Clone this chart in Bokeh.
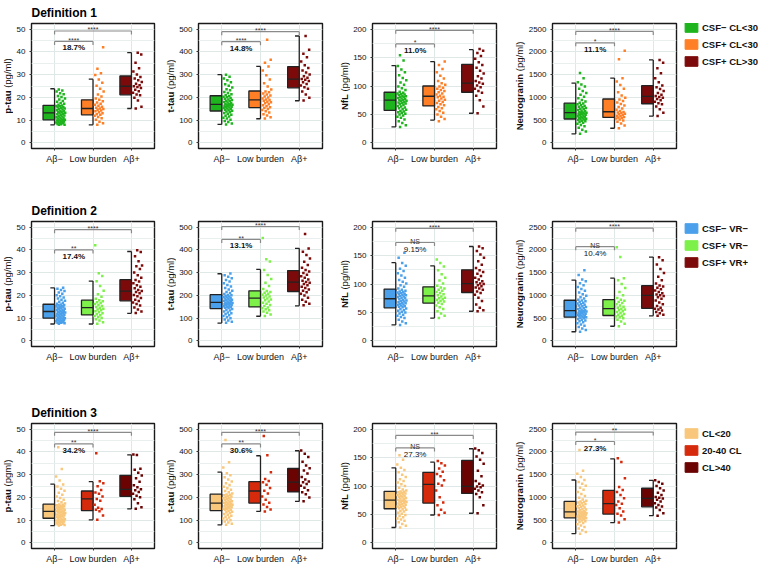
import math
from bokeh.plotting import figure
from bokeh.models import Range1d, FixedTicker, Label, Legend, LegendItem, ColumnDataSource
from bokeh.layouts import row, column
from bokeh.embed import file_html
from bokeh.resources import INLINE
from bokeh.core.properties import value

# ---------------- data ----------------
CATEGORIES = ["Aβ−", "Low burden", "Aβ+"]
DEFINITIONS = ["Definition 1", "Definition 2", "Definition 3"]
LEGEND_LABELS = [["CSF− CL<30", "CSF+ CL<30", "CSF+ CL>30"],
                 ["CSF− VR−", "CSF+ VR−", "CSF+ VR+"],
                 ["CL<20", "20-40 CL", "CL>40"]]
COLORS = [["#1eb41e", "#ff7f27", "#7d0a0a"],
          ["#4aa0ea", "#7df04a", "#7d0a0a"],
          ["#f9c77b", "#d62a0d", "#6b0303"]]
Y_LABEL_MAIN = ["p-tau", "t-tau", "NfL", "Neurogranin"]
Y_LABEL_UNIT = [["(pg/ml)", "(pg/ml)", "(pg/ml)", "(pg/ml)"],
                ["(pg/ml)", "(pg/ml)", "(pg/ml)", "(pg/ml)"],
                ["(pgml)", "(pg/ml)", "(pg/ml)", "(pg/ml)"]]
Y_TICKS = [[0, 10, 20, 30, 40, 50], [0, 100, 200, 300, 400, 500],
           [0, 50, 100, 150, 200], [0, 500, 1000, 1500, 2000, 2500]]

# box statistics [marker][group]: whisker low, Q1, median, Q3, whisker high
D1_LO = [[7.9, 7.9, 15.1], [81, 106, 185], [28, 40, 52], [196, 321, 587]]
D1_Q1 = [[10.1, 12.3, 21.1], [140, 155, 242], [57, 65, 89], [524, 559, 859]]
D1_MED = [[13.2, 15.1, 24.9], [169, 189, 280], [75, 82, 105], [663, 684, 1020]]
D1_Q3 = [[16.5, 18.9, 29.4], [207, 228, 335], [89, 100, 138], [873, 964, 1257]]
D1_HI = [[23.8, 28.0, 39.7], [300, 336, 470], [136, 143, 164], [1313, 1425, 1823]]

D2_LO = [[7.4, 7.4, 12.1], [78, 108, 154], [28, 40, 52], [200, 321, 550]]
D2_Q1 = [[10.0, 11.4, 17.6], [142, 149, 217], [58, 66.5, 85], [521, 557, 714]]
D2_MED = [[12.9, 14.6, 21.9], [169, 188, 258], [74, 79, 100.6], [664, 707, 1000]]
D2_Q3 = [[16.1, 17.9, 26.9], [203, 220, 309], [91, 95, 125], [893, 907, 1214]]
D2_HI = [[23.3, 26.3, 39.3], [295, 314, 407], [137.5, 132, 166], [1336, 1379, 1843]]

D3_LO = [[7.6, 10.1, 14.9], [79, 138, 182], [27, 49, 52], [201, 444, 597]]
D3_Q1 = [[10.8, 14.2, 20.4], [142, 175, 224], [60, 70, 87], [549, 632, 792]]
D3_MED = [[13.8, 19.3, 23.5], [175, 228, 267], [75, 103, 99.4], [681, 861, 979]]
D3_Q3 = [[17.0, 22.8, 29.7], [214, 269, 327], [90.6, 124, 145], [910, 1153, 1201]]
D3_HI = [[25.8, 26.9, 38.7], [311, 383, 405], [132, 142, 165.6], [1382, 1847, 1375]]

# significance annotations [definition][marker]
SIG_TOP_Y = [[49.2, 489, 198, 2451], [48.9, 503, 198, 2479], [48.6, 486, 189, 2437]]
SIG_LOW_Y = [[44.6, 445, 174, 2200], [40.0, 446, 173, 2071], [43.5, 435, 167, 2229]]
SIG_TOP_TXT = [["****", "****", "****", "****"], ["****", "****", "****", "****"],
               ["****", "****", "***", "**"]]
SIG_LOW_TXT = [["****", "****", "*", "*"], ["**", "**", "NS", "NS"], ["**", "**", "NS", "*"]]
PCT_TXT = [["18.7%", "14.8%", "11.0%", "11.1%"], ["17.4%", "13.1%", "9.15%", "10.4%"],
           ["34.2%", "30.6%", "27.3%", "27.3%"]]
PCT_BOLD = [[True, True, True, True], [True, True, False, False], [True, True, False, True]]

# individual points
D1_PTAU_NEG = [7.9, 8.0, 8.2, 8.3, 8.6, 8.7, 8.9, 9.0, 9.3, 9.4, 9.5, 9.8, 9.9, 10.0,
               10.2, 10.4, 10.7, 10.9, 11.1, 11.2, 11.6, 11.8, 12.0, 12.3, 12.6, 12.8, 13.0, 13.2,
               13.4, 13.7, 13.9, 14.0, 14.3, 14.7, 14.9, 15.1, 15.3, 15.6, 15.8, 16.1, 16.2, 16.4,
               16.7, 17.2, 17.5, 18.1, 18.4, 19.1, 19.5, 20.2, 20.6, 21.4, 21.8, 22.6, 23.0, 23.5]
D1_PTAU_LOW = [8.0, 8.6, 9.3, 10.1, 10.8, 11.4, 11.9, 12.3, 12.6, 13.0, 13.5, 13.9, 14.2, 14.6,
               14.9, 15.1, 15.4, 15.9, 16.3, 16.8, 17.2, 17.7, 18.3, 18.9, 19.5, 20.4, 21.3, 22.6,
               23.8, 25.1, 26.4, 27.9, 29.8, 30.6, 32.6, 42.0]
D1_PTAU_POS = [15.1, 15.9, 18.6, 19.8, 20.9, 21.3, 22.0, 22.7, 23.4, 24.1, 24.6, 24.9, 25.3,
               26.0, 26.8, 27.5, 28.3, 29.0, 30.1, 31.4, 32.8, 35.2, 38.9, 39.6]

D1_TTAU_NEG = [81, 85, 92, 96, 101, 107, 110, 116, 119, 124, 128, 131, 135, 138,
               141, 143, 146, 148, 151, 153, 155, 157, 159, 161, 163, 165, 166, 168,
               170, 172, 175, 177, 180, 183, 185, 188, 191, 194, 197, 200, 203, 206,
               209, 214, 219, 224, 231, 236, 243, 251, 258, 266, 275, 283, 291, 299]
D1_TTAU_LOW = [107, 112, 120, 126, 133, 139, 144, 149, 153, 157, 161, 165, 170, 174, 178, 181,
               185, 188, 191, 195, 199, 204, 208, 213, 217, 222, 226, 235, 248, 262, 279, 297,
               318, 336, 352, 366, 453]
D1_TTAU_POS = [186, 198, 213, 226, 238, 245, 252, 259, 266, 272, 278, 281, 286, 293, 301, 309,
               318, 329, 341, 358, 377, 392, 410, 470]

D1_NFL_NEG = [28, 31, 35, 38, 41, 44, 46, 48, 50, 51, 53, 54, 55, 56,
              58, 59, 61, 62, 64, 65, 67, 68, 69, 70, 71, 72, 73, 74,
              75, 76, 77, 78, 79, 80, 81, 82, 83, 84, 85, 86, 87, 88,
              90, 93, 96, 99, 102, 106, 110, 114, 119, 124, 129, 135, 145, 154]
D1_NFL_LOW = [38, 42, 46, 50, 53, 56, 59, 61, 63, 66, 68, 70, 72, 74, 76, 78, 80, 81,
              83, 85, 87, 89, 91, 93, 95, 97, 99, 102, 105, 109, 113, 118, 124, 130, 137, 143]
D1_NFL_POS = [52, 64, 75, 83, 88, 91, 95, 98, 101, 104, 106, 109, 113, 117, 122, 127, 132,
              137, 142, 148, 153, 158, 162, 165]

D1_NGRN_NEG = [200, 248, 290, 331, 365, 392, 418, 441, 459, 474, 488, 500, 511, 520,
               530, 541, 553, 563, 574, 585, 596, 607, 617, 627, 637, 646, 654, 661,
               668, 680, 693, 708, 722, 736, 750, 765, 780, 795, 811, 828, 846, 866,
               884, 910, 943, 978, 1015, 1056, 1098, 1142, 1190, 1238, 1285, 1330, 1420, 1536]
D1_NGRN_LOW = [323, 380, 425, 462, 493, 515, 533, 547, 556, 566, 582, 597, 611, 626, 640, 654,
               667, 680, 700, 726, 757, 789, 820, 852, 885, 918, 952, 990, 1040, 1110, 1190,
               1270, 1350, 1420, 1837, 2025]
D1_NGRN_POS = [590, 662, 738, 800, 846, 872, 903, 935, 962, 990, 1010, 1028, 1060, 1098, 1140,
               1183, 1225, 1262, 1330, 1420, 1530, 1640, 1760, 1823]

D2_PTAU_NEG = [7.5, 7.7, 7.9, 8.0, 8.2, 8.4, 8.6, 8.7, 8.9, 9.1, 9.3, 9.4, 9.6, 9.8, 9.9,
               10.1, 10.3, 10.5, 10.7, 10.9, 11.1, 11.3, 11.5, 11.7, 11.9, 12.1, 12.3, 12.5, 12.7, 12.8,
               13.0, 13.2, 13.4, 13.6, 13.9, 14.1, 14.3, 14.5, 14.8, 15.0, 15.2, 15.4, 15.6, 15.8, 16.0,
               16.3, 16.7, 17.2, 17.6, 18.1, 18.6, 19.1, 19.6, 20.1, 20.7, 21.3, 21.9, 22.4, 22.9, 23.3]
D2_PTAU_LOW = [7.5, 8.2, 8.9, 9.5, 10.0, 10.5, 10.9, 11.2, 11.7, 12.1, 12.6, 13.0, 13.4, 13.8,
               14.1, 14.4, 14.9, 15.3, 15.8, 16.2, 16.6, 17.0, 17.4, 17.8, 18.5, 19.4, 20.5, 22.0,
               24.1, 26.2, 28.5, 29.7, 42.1]
D2_PTAU_POS = [12.2, 12.9, 13.8, 14.7, 15.5, 16.2, 16.9, 17.5, 18.1, 18.8, 19.6, 20.2, 20.9, 21.5,
               21.9, 22.4, 23.1, 23.8, 24.5, 25.3, 26.1, 26.8, 27.8, 28.9, 30.1, 31.6, 32.8, 33.1,
               35.0, 37.2, 39.1, 39.8]

D2_TTAU_NEG = [80, 84, 89, 94, 99, 104, 109, 113, 117, 121, 125, 129, 133, 137, 140,
               144, 146, 148, 150, 152, 154, 156, 158, 160, 161, 163, 164, 166, 167, 168,
               171, 173, 175, 177, 179, 181, 184, 186, 188, 191, 193, 195, 197, 200, 202,
               206, 210, 215, 220, 226, 232, 239, 246, 253, 261, 268, 275, 282, 289, 296]
D2_TTAU_LOW = [109, 116, 123, 129, 134, 139, 143, 147, 153, 158, 163, 168, 173, 178, 182, 186,
               191, 195, 199, 203, 207, 211, 215, 219, 228, 241, 256, 272, 290, 312, 349, 359, 452]
D2_TTAU_POS = [156, 163, 172, 181, 190, 199, 207, 214, 220, 226, 232, 238, 244, 250, 255, 259,
               264, 270, 277, 284, 291, 298, 305, 312, 322, 334, 348, 362, 378, 392, 406, 470]

D2_NFL_NEG = [28, 31, 34, 37, 40, 42, 44, 46, 48, 50, 51, 53, 54, 56, 57,
              59, 60, 61, 62, 63, 64, 65, 66, 67, 68, 69, 70, 71, 72, 73,
              75, 76, 77, 78, 79, 80, 81, 82, 83, 84, 85, 86, 87, 88, 90,
              92, 95, 98, 101, 104, 107, 111, 115, 119, 123, 127, 132, 137, 146, 155]
D2_NFL_LOW = [40, 44, 48, 52, 56, 59, 62, 65, 67, 69, 70, 72, 73, 75, 76, 78,
              80, 82, 84, 86, 88, 90, 92, 94, 97, 101, 106, 111, 117, 124, 131, 137, 143]
D2_NFL_POS = [52, 54, 58, 64, 70, 76, 81, 84, 87, 90, 92, 94, 96, 98, 100, 101, 103, 105, 108,
              111, 114, 118, 121, 124, 128, 134, 140, 146, 152, 158, 163, 166]

D2_NGRN_NEG = [200, 236, 270, 302, 332, 360, 385, 408, 429, 448, 465, 481, 495, 507, 516,
               528, 538, 548, 558, 568, 578, 588, 598, 608, 618, 628, 638, 647, 655, 662,
               670, 684, 699, 714, 729, 744, 759, 775, 791, 807, 823, 839, 856, 872, 889,
               905, 930, 958, 990, 1025, 1062, 1100, 1140, 1182, 1225, 1268, 1310, 1350, 1450, 1550]
D2_NGRN_LOW = [322, 378, 424, 462, 494, 518, 537, 552, 572, 592, 612, 632, 651, 670, 688, 703,
               725, 752, 778, 804, 830, 856, 881, 903, 940, 1000, 1075, 1160, 1250, 1330, 1378,
               1843, 2057]
D2_NGRN_POS = [552, 575, 604, 636, 665, 690, 708, 730, 765, 805, 845, 885, 925, 960, 985, 1000,
               1020, 1045, 1075, 1105, 1135, 1165, 1195, 1215, 1260, 1330, 1410, 1490, 1580, 1680,
               1770, 1840]

D3_PTAU_NEG = [7.6, 7.8, 8.0, 8.2, 8.4, 8.6, 8.8, 9.0, 9.2, 9.4, 9.6, 9.8, 10.0, 10.2, 10.4, 10.6,
               10.9, 11.1, 11.3, 11.5, 11.7, 11.9, 12.1, 12.3, 12.5, 12.7, 12.9, 13.1, 13.3, 13.5, 13.6, 13.7,
               13.9, 14.1, 14.3, 14.5, 14.7, 14.9, 15.1, 15.3, 15.5, 15.7, 15.9, 16.1, 16.3, 16.5, 16.7, 16.9,
               17.3, 17.8, 18.4, 19.0, 19.7, 20.4, 21.2, 22.0, 22.9, 23.8, 24.8, 25.7, 27.4, 29.2, 32.5, 42.1]
D3_PTAU_LOW = [10.1, 12.0, 13.9, 14.5, 14.9, 15.4, 16.7, 18.5, 19.3, 20.4, 21.6, 22.1, 23.2, 24.9,
               26.2, 27.1, 39.4]
D3_PTAU_POS = [15.0, 15.6, 17.4, 19.2, 20.1, 20.7, 21.6, 22.4, 23.1, 23.6, 24.4, 25.3, 26.9, 28.4,
               29.6, 30.8, 32.2, 32.6, 38.6, 38.9]

D3_TTAU_NEG = [80, 84, 89, 94, 99, 103, 107, 111, 115, 119, 123, 127, 131, 134, 137, 140,
               144, 146, 148, 150, 152, 154, 157, 159, 161, 163, 165, 167, 169, 171, 172, 174,
               176, 178, 181, 183, 186, 188, 191, 193, 196, 198, 201, 204, 206, 209, 211, 213,
               217, 222, 228, 234, 240, 247, 254, 262, 270, 279, 288, 297, 306, 331, 355, 452]
D3_TTAU_LOW = [138, 147, 158, 169, 176, 190, 204, 217, 229, 241, 255, 266, 272, 281, 310, 385, 470]
D3_TTAU_POS = [183, 199, 214, 222, 231, 242, 251, 259, 266, 270, 279, 290, 305, 318, 328, 340,
               357, 378, 392, 406]

D3_NFL_NEG = [27, 30, 33, 36, 39, 41, 43, 45, 47, 49, 51, 53, 55, 56, 58, 59,
              61, 62, 63, 64, 65, 66, 67, 68, 69, 70, 71, 72, 73, 73.5, 74, 74.5,
              76, 77, 78, 79, 80, 81, 82, 83, 84, 85, 86, 87, 88, 89, 90, 90.5,
              92, 94, 97, 100, 103, 106, 109, 112, 116, 120, 124, 128, 132, 138, 146, 154]
D3_NFL_LOW = [49, 53, 58, 66, 71, 80, 92, 101, 104, 110, 117, 121, 125, 131, 136, 140, 144]
D3_NFL_POS = [52, 66, 80, 86, 89, 92, 95, 98, 99, 101, 104, 109, 117, 127, 139, 146, 152, 158,
              163, 166]

D3_NGRN_NEG = [202, 240, 278, 314, 348, 380, 409, 434, 456, 475, 492, 507, 520, 531, 540, 546,
               555, 563, 571, 580, 589, 598, 607, 616, 625, 634, 643, 652, 661, 669, 675, 679,
               688, 702, 716, 731, 746, 761, 776, 791, 806, 822, 838, 854, 870, 886, 898, 907,
               925, 955, 990, 1030, 1075, 1120, 1165, 1210, 1255, 1300, 1340, 1380, 1450, 1520,
               1583, 2042]
D3_NGRN_LOW = [445, 520, 600, 640, 690, 760, 830, 862, 910, 980, 1050, 1120, 1160, 1230, 1420,
               1778, 1861]
D3_NGRN_POS = [598, 650, 720, 775, 800, 830, 870, 910, 950, 975, 990, 1010, 1050, 1100, 1150,
               1200, 1250, 1300, 1340, 1376]

BOX_LO = [D1_LO, D2_LO, D3_LO]
BOX_Q1 = [D1_Q1, D2_Q1, D3_Q1]
BOX_MED = [D1_MED, D2_MED, D3_MED]
BOX_Q3 = [D1_Q3, D2_Q3, D3_Q3]
BOX_HI = [D1_HI, D2_HI, D3_HI]
POINTS = [
    [(D1_PTAU_NEG, D1_PTAU_LOW, D1_PTAU_POS), (D1_TTAU_NEG, D1_TTAU_LOW, D1_TTAU_POS),
     (D1_NFL_NEG, D1_NFL_LOW, D1_NFL_POS), (D1_NGRN_NEG, D1_NGRN_LOW, D1_NGRN_POS)],
    [(D2_PTAU_NEG, D2_PTAU_LOW, D2_PTAU_POS), (D2_TTAU_NEG, D2_TTAU_LOW, D2_TTAU_POS),
     (D2_NFL_NEG, D2_NFL_LOW, D2_NFL_POS), (D2_NGRN_NEG, D2_NGRN_LOW, D2_NGRN_POS)],
    [(D3_PTAU_NEG, D3_PTAU_LOW, D3_PTAU_POS), (D3_TTAU_NEG, D3_TTAU_LOW, D3_TTAU_POS),
     (D3_NFL_NEG, D3_NFL_LOW, D3_NFL_POS), (D3_NGRN_NEG, D3_NGRN_LOW, D3_NGRN_POS)],
]

# ---------------- layout / style ----------------
FONT = "Liberation Sans"
FRAME_H = 125
MT = 23
LAB_W = 13
PANEL_W = [150, 161, 162, 155]
PANEL_ML = [13, 18, 18, 23]
PANEL_MR = [9, 15, 16, 4]
ROW_H = [198, 202, 166]
LEG_W = 82
LEG_TOP_SHIFT = [2, -1, -4]
GRID = "#dfe7e7"
GRID_MINOR = "#e9efef"
INK = "#222222"
BRACKET = "#8a8a8a"
AX_FS = 9.5

BOLDW = {'p': .611, '-': .333, 't': .333, 'a': .556, 'u': .611, 'N': .722, 'f': .333, 'L': .611,
         'e': .556, 'r': .389, 'o': .611, 'g': .611, 'n': .611, 'i': .278}
NORMW = {' ': .278, '(': .333, 'p': .556, 'g': .556, '/': .278, 'm': .833, 'l': .222, ')': .333}


def tw(s, table, size):
    return sum(table.get(ch, .556) for ch in s) * size


def y_limits(m):
    ticks = Y_TICKS[m]
    span = ticks[-1] - ticks[0]
    return ticks[0] - 0.05 * span, ticks[-1] + 0.05 * span


def make_ylabel(d, m):
    """Narrow strip holding the rotated y-axis title (bold name + normal unit)."""
    mb = ROW_H[d] - MT - FRAME_H
    f = figure(width=LAB_W, height=ROW_H[d], x_range=Range1d(0, LAB_W),
               y_range=Range1d(-FRAME_H / 2, FRAME_H / 2), output_backend="svg",
               toolbar_location=None, min_border_left=0, min_border_right=0,
               min_border_top=MT, min_border_bottom=mb, x_axis_type=None, y_axis_type=None)
    f.outline_line_color = None
    f.background_fill_color = "white"
    f.border_fill_color = "white"
    main, unit = Y_LABEL_MAIN[m], Y_LABEL_UNIT[d][m]
    wb = tw(main, BOLDW, AX_FS)
    gap = 0.278 * AX_FS
    wn = tw(unit, NORMW, AX_FS)
    split = -(wb + gap + wn) / 2 + wb
    xc = LAB_W / 2
    f.text(x=[xc], y=[split], text=[main], angle=math.pi / 2, text_align=value("right"),
           text_baseline=value("middle"), text_font=value(FONT),
           text_font_size=value(f"{AX_FS}px"), text_font_style=value("bold"),
           text_color="#111111")
    f.text(x=[xc], y=[split + gap], text=[unit], angle=math.pi / 2, text_align=value("left"),
           text_baseline=value("middle"), text_font=value(FONT),
           text_font_size=value(f"{AX_FS}px"), text_font_style=value("normal"),
           text_color="#111111")
    return f


def make_panel(d, m):
    ticks = Y_TICKS[m]
    y0, y1 = y_limits(m)
    ppu = FRAME_H / (y1 - y0)
    mb = ROW_H[d] - MT - FRAME_H
    p = figure(width=PANEL_W[m], height=ROW_H[d], x_range=Range1d(0.4, 3.6),
               y_range=Range1d(y0, y1), output_backend="svg", toolbar_location=None,
               min_border_left=PANEL_ML[m], min_border_right=PANEL_MR[m],
               min_border_top=MT, min_border_bottom=mb)
    p.background_fill_color = "white"
    p.border_fill_color = "white"
    p.outline_line_color = "#1a1a1a"
    p.outline_line_width = 1.4
    if m == 0:
        p.title.text = DEFINITIONS[d]
        p.title.align = "left"
        p.title.text_font = FONT
        p.title.text_font_size = "12px"
        p.title.text_font_style = "bold"
        p.title.text_color = "#000000"
        p.title.standoff = 7
        p.title.offset = 0

    xt = FixedTicker(ticks=[1, 2, 3])
    yt = FixedTicker(ticks=ticks,
                     minor_ticks=[(a + b) / 2 for a, b in zip(ticks[:-1], ticks[1:])])
    p.xaxis.ticker = xt
    p.yaxis.ticker = yt
    p.xgrid.ticker = xt
    p.ygrid.ticker = yt
    p.xgrid.grid_line_color = GRID
    p.ygrid.grid_line_color = GRID
    p.ygrid.minor_grid_line_color = GRID_MINOR
    p.xaxis.major_label_overrides = {1: CATEGORIES[0], 2: CATEGORIES[1], 3: CATEGORIES[2]}
    for ax in (p.xaxis, p.yaxis):
        ax.axis_line_color = None
        ax.major_tick_line_color = "#333333"
        ax.major_tick_out = 2
        ax.major_tick_in = 0
        ax.minor_tick_line_color = None
        ax.major_label_text_font = FONT
        ax.major_label_text_color = "#111111"
    p.xaxis.major_label_text_font_size = "9px"
    p.xaxis.major_label_standoff = 3
    p.yaxis.major_label_text_font_size = "8px"
    p.yaxis.major_label_standoff = 2

    cols = COLORS[d]
    xs = [1, 2, 3]
    src = ColumnDataSource(dict(
        left=[x - 0.3 for x in xs], right=xs, tick=[x - 0.11 for x in xs],
        lo=BOX_LO[d][m], q1=BOX_Q1[d][m], med=BOX_MED[d][m],
        q3=BOX_Q3[d][m], hi=BOX_HI[d][m], color=cols))
    p.segment(x0="right", x1="right", y0="lo", y1="hi", source=src, line_color=INK, line_width=1.3)
    p.segment(x0="tick", x1="right", y0="lo", y1="lo", source=src, line_color=INK, line_width=1.3)
    p.segment(x0="tick", x1="right", y0="hi", y1="hi", source=src, line_color=INK, line_width=1.3)
    p.quad(left="left", right="right", bottom="q1", top="q3", source=src,
           fill_color="color", line_color=INK, line_width=1.3)
    p.segment(x0="left", x1="right", y0="med", y1="med", source=src, line_color=INK, line_width=1.3)

    for g in range(3):
        vals = POINTS[d][m][g]
        jx = [g + 1 + 0.04 + 0.24 * ((k * 0.6180339887 + 0.3) % 1.0) for k in range(len(vals))]
        p.scatter(jx, vals, marker="square", size=2.5, fill_color=cols[g], line_color=None)

    # significance brackets
    tl = 3.5 / ppu
    ytop, ylow = SIG_TOP_Y[d][m], SIG_LOW_Y[d][m]
    bsrc = ColumnDataSource(dict(
        x0=[1, 1, 3, 1, 1, 2], x1=[3, 1, 3, 2, 1, 2],
        y0=[ytop, ytop, ytop, ylow, ylow, ylow],
        y1=[ytop, ytop - tl, ytop - tl, ylow, ylow - tl, ylow - tl]))
    p.segment(x0="x0", x1="x1", y0="y0", y1="y1", source=bsrc, line_color=BRACKET, line_width=1.2)
    for txt, xc, yy in ((SIG_TOP_TXT[d][m], 2, ytop), (SIG_LOW_TXT[d][m], 1.5, ylow)):
        p.add_layout(Label(x=xc, y=yy + 1.2 / ppu, text=txt, text_align="center",
                           text_baseline="alphabetic", text_font=FONT, text_font_size="7px",
                           text_color="#333333"))
    p.add_layout(Label(x=1.5, y=ylow - 6.5 / ppu, text=PCT_TXT[d][m], text_align="center",
                       text_baseline="middle", text_font=FONT, text_font_size="8px",
                       text_font_style="bold" if PCT_BOLD[d][m] else "normal",
                       text_color="#111111"))
    return p


def make_legend(d):
    mb = ROW_H[d] - MT - FRAME_H
    lf = figure(width=LEG_W, height=ROW_H[d], x_range=Range1d(0, 1), y_range=Range1d(0, 1),
                output_backend="svg", toolbar_location=None, min_border_left=0,
                min_border_right=0, min_border_top=MT, min_border_bottom=mb,
                x_axis_type=None, y_axis_type=None)
    lf.outline_line_color = None
    lf.background_fill_color = "white"
    lf.border_fill_color = "white"
    items = []
    for g in range(3):
        # legend proxy: a key glyph kept outside the visible range of this legend-only figure
        r = lf.quad(left=[2], right=[3], bottom=[2], top=[3], fill_color=COLORS[d][g],
                    line_color=COLORS[d][g])
        items.append(LegendItem(label=LEGEND_LABELS[d][g], renderers=[r]))
    glyph_h, spacing = 12, 5
    leg_h = 3 * glyph_h + 2 * spacing
    leg = Legend(items=items, location=(3, FRAME_H + LEG_TOP_SHIFT[d] - leg_h),
                 glyph_width=16, glyph_height=glyph_h,
                 label_height=glyph_h, spacing=spacing, padding=0, margin=0, label_standoff=3,
                 label_text_font=FONT, label_text_font_size="9.5px", label_text_font_style="bold",
                 label_text_color="#111111", border_line_color=None, background_fill_alpha=0)
    lf.add_layout(leg)
    return lf


rows = []
for d in range(3):
    parts = []
    for m in range(4):
        parts.append(make_ylabel(d, m))
        parts.append(make_panel(d, m))
    parts.append(make_legend(d))
    rows.append(row(*parts))
layout = column(*rows)

open("out.html", "w").write(file_html(layout, INLINE))
